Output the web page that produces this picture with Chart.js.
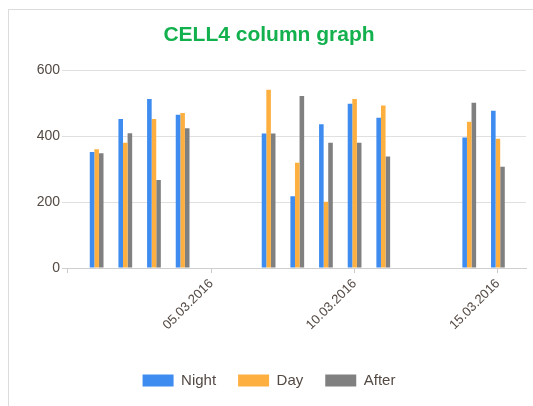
<!DOCTYPE html>
<html>
<head>
<meta charset="utf-8">
<script src="https://cdn.jsdelivr.net/npm/chart.js@4.4.1/dist/chart.umd.min.js"></script>
<style>
  html, body { margin: 0; padding: 0; background: #fff; }
  #frame { position: absolute; left: 8px; top: 9px; width: 600px; height: 500px;
           border-left: 1px solid #dcdcdc; border-top: 1px solid #dcdcdc; }
  #wrap { position: absolute; left: 0; top: 0; width: 533px; height: 406px; }
</style>
</head>
<body>
<div id="frame"></div>
<div id="wrap"><canvas id="colChart" width="533" height="406"></canvas></div>
<script>
// dates of the columns (dd.mm.yyyy)
const dates = ['01.03.2016', '02.03.2016', '03.03.2016', '04.03.2016', '07.03.2016',
               '08.03.2016', '09.03.2016', '10.03.2016', '11.03.2016', '14.03.2016', '15.03.2016'];
const night = [352, 452, 513, 465, 408, 218, 436, 498, 456, 396, 477];
const day   = [360, 380, 452, 470, 541, 319, 201, 513, 493, 444, 392];
const after = [348, 409, 267, 424, 408, 522, 380, 380, 338, 501, 307];

// x tick dates and labels (first tick has no label in the original)
const tickDates  = ['29.02.2016', '05.03.2016', '10.03.2016', '15.03.2016'];
const tickLabels = ['', '05.03.2016', '10.03.2016', '15.03.2016'];
const yTicks = [0, 200, 400, 600];

// day number counted from 01.03.2016
function dayNum(s) {
    const p = s.split('.');
    return (Date.UTC(+p[2], +p[1] - 1, +p[0]) - Date.UTC(2016, 2, 1)) / 86400000;
}
const days = dates.map(dayNum);
const tickDays = tickDates.map(dayNum);

const font = 'Arial, "Liberation Sans", sans-serif';
const textColor = '#544a44';

function series(label, values, color) {
    return {
        label: label,
        data: days.map((d, i) => ({x: d, y: values[i]})),
        backgroundColor: color,
        borderWidth: 0,
        categoryPercentage: 0.48,
        barPercentage: 1
    };
}

new Chart(document.getElementById('colChart'), {
    type: 'bar',
    data: {
        datasets: [
            series('Night', night, '#3f8cf0'),
            series('Day', day, '#fdb040'),
            series('After', after, '#808080')
        ]
    },
    options: {
        responsive: false,
        animation: false,
        layout: { padding: { left: 12, right: 7, top: 0, bottom: 8 } },
        plugins: {
            title: {
                display: true,
                text: 'CELL4 column graph',
                color: '#13b04e',
                font: { family: font, size: 21, weight: 'bold' },
                padding: { top: 23, bottom: 22 }
            },
            legend: {
                position: 'bottom',
                labels: {
                    boxWidth: 31,
                    boxHeight: 12,
                    padding: 22,
                    color: textColor,
                    font: { family: font, size: 15 }
                }
            },
            tooltip: { enabled: false }
        },
        scales: {
            x: {
                type: 'linear',
                offset: false,
                min: tickDays[0] - 5 / 24,
                max: days[days.length - 1] + 0.98,
                afterBuildTicks: s => { s.ticks = tickDays.map(v => ({value: v})); },
                afterFit: s => { s.height = 83; },
                grid: { offset: false, drawOnChartArea: false, drawTicks: true, tickLength: 5, color: '#c8c8c8' },
                border: { display: true, color: '#cfcfcf' },
                ticks: {
                    autoSkip: false,
                    minRotation: 45,
                    maxRotation: 45,
                    padding: 3,
                    color: textColor,
                    font: { family: font, size: 13 },
                    callback: (v, i) => tickLabels[i]
                }
            },
            y: {
                min: 0,
                max: 600,
                afterBuildTicks: s => { s.ticks = yTicks.map(v => ({value: v})); },
                afterFit: s => { s.width = 50; },
                grid: { drawTicks: false, color: c => c.tick && c.tick.value === 0 ? '#cfcfcf' : '#e0e0e0' },
                border: { display: false },
                ticks: {
                    padding: 2,
                    color: textColor,
                    font: { family: font, size: 14 }
                }
            }
        }
    }
});
</script>
</body>
</html>
